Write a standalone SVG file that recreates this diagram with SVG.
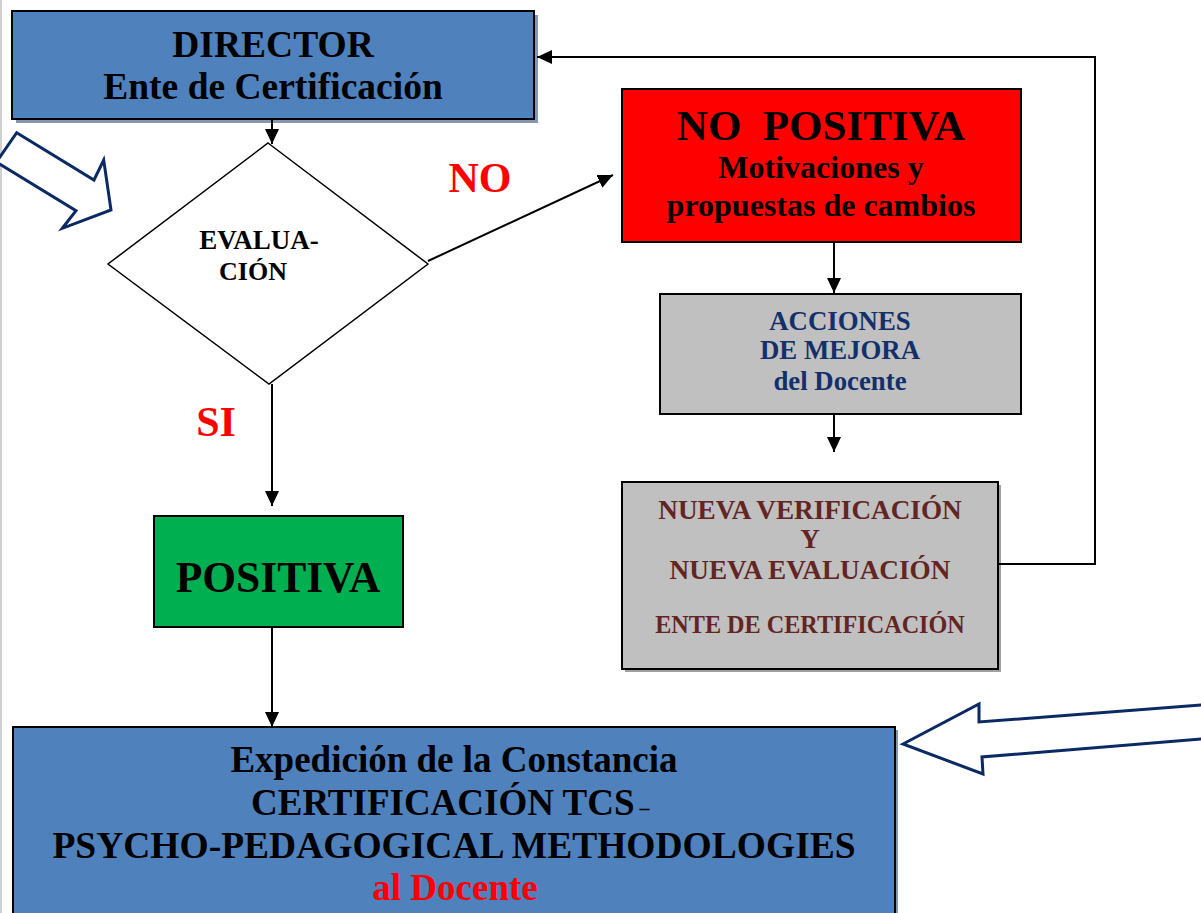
<svg xmlns="http://www.w3.org/2000/svg" width="1201" height="913" viewBox="0 0 1201 913">
<defs>
<marker id="ah" markerUnits="userSpaceOnUse" markerWidth="16" markerHeight="14" refX="15" refY="7" orient="auto">
<path d="M0,0 L15,7 L0,14 Z" fill="#000"/>
</marker>
<style>
text{font-family:"Liberation Serif","Times New Roman",serif;font-weight:bold;text-anchor:middle}
.box{stroke:#000;stroke-width:2}
.conn{fill:none;stroke:#000;stroke-width:2}
.big{fill:#fff;stroke:#0b2a63;stroke-width:3;stroke-linejoin:miter}
.blk{fill:#000}
.red{fill:#ff0000}
.navy{fill:#13306b}
.brown{fill:#632523}
</style>
</defs>
<rect width="1201" height="913" fill="#fff"/>
<line x1="1" y1="0" x2="1" y2="913" stroke="#d0d0d0" stroke-width="2"/>

<g id="director">
<rect x="16" y="15" width="522" height="108" fill="#8496b0"/>
<rect class="box" x="12" y="11" width="522" height="108" fill="#4f81bd"/>
<text class="blk" x="273" y="57" font-size="37.5">DIRECTOR</text>
<text class="blk" x="273" y="99" font-size="37.5">Ente de Certificación</text>
</g>

<g id="evaluacion">
<polygon points="268,143 428,264 269,384 108,264" fill="#fff" stroke="#000" stroke-width="1.5"/>
<text class="blk" x="259" y="249" font-size="27">EVALUA-</text>
<text class="blk" x="253" y="280" font-size="26">CIÓN</text>
</g>

<g id="no-positiva">
<rect class="box" x="622" y="89" width="399" height="153" fill="#ff0000"/>
<text class="blk" x="821" y="140" font-size="43" xml:space="preserve">NO  POSITIVA</text>
<text class="blk" x="821" y="178" font-size="32">Motivaciones y</text>
<text class="blk" x="821" y="216" font-size="32">propuestas de cambios</text>
</g>

<g id="acciones">
<rect class="box" x="660" y="294" width="361" height="120" fill="#c0c0c0"/>
<text class="navy" x="840" y="330" font-size="26.8">ACCIONES</text>
<text class="navy" x="840" y="359" font-size="26.8">DE MEJORA</text>
<text class="navy" x="840" y="390" font-size="26.8">del Docente</text>
</g>

<g id="nueva">
<rect x="625" y="485" width="376" height="187" fill="#a0a0a0"/>
<rect class="box" x="622" y="482" width="376" height="187" fill="#c0c0c0"/>
<text class="brown" x="810" y="519" font-size="27.2">NUEVA VERIFICACIÓN</text>
<text class="brown" x="810" y="548" font-size="27.2">Y</text>
<text class="brown" x="810" y="579" font-size="27.2">NUEVA EVALUACIÓN</text>
<text class="brown" x="810" y="633" font-size="24.2">ENTE DE CERTIFICACIÓN</text>
</g>

<g id="positiva">
<rect class="box" x="154" y="516" width="249" height="111" fill="#00b050"/>
<text class="blk" x="278" y="592" font-size="43.5">POSITIVA</text>
</g>

<g id="constancia">
<rect x="16" y="730" width="882" height="200" fill="#8496b0"/>
<rect class="box" x="13" y="727" width="882" height="200" fill="#4f81bd"/>
<text class="blk" x="454" y="772" font-size="37">Expedición de la Constancia</text>
<text class="blk" x="251" y="815" font-size="37" style="text-anchor:start">CERTIFICACIÓN TCS<tspan font-size="20"> –</tspan></text>
<text class="blk" x="454" y="858" font-size="37.5">PSYCHO-PEDAGOGICAL METHODOLOGIES</text>
<text class="red" x="455" y="900" font-size="37">al Docente</text>
</g>

<g id="labels">
<text class="red" x="480" y="192" font-size="42">NO</text>
<text class="red" x="216" y="436" font-size="42">SI</text>
</g>

<g id="big-arrows">
<polygon class="big" points="16.7,132.7 94,180 103.7,160 111,210 62.3,228.3 76,210.7 -3.5,162"/>
<polygon class="big" points="903,744 979,704 979,722 1205,704.7 1205,738.7 982,757 983,774"/>
</g>

<g id="connectors">
<line class="conn" x1="272" y1="119" x2="272" y2="144" marker-end="url(#ah)"/>
<line class="conn" x1="428" y1="261" x2="613" y2="175" marker-end="url(#ah)"/>
<line class="conn" x1="834" y1="242" x2="834" y2="293" marker-end="url(#ah)"/>
<line class="conn" x1="834" y1="414" x2="834" y2="452" marker-end="url(#ah)"/>
<polyline class="conn" points="998,564 1095,564 1095,57 537,57" marker-end="url(#ah)"/>
<line class="conn" x1="272" y1="384" x2="272" y2="506" marker-end="url(#ah)"/>
<line class="conn" x1="272" y1="627" x2="272" y2="727" marker-end="url(#ah)"/>
</g>
</svg>
